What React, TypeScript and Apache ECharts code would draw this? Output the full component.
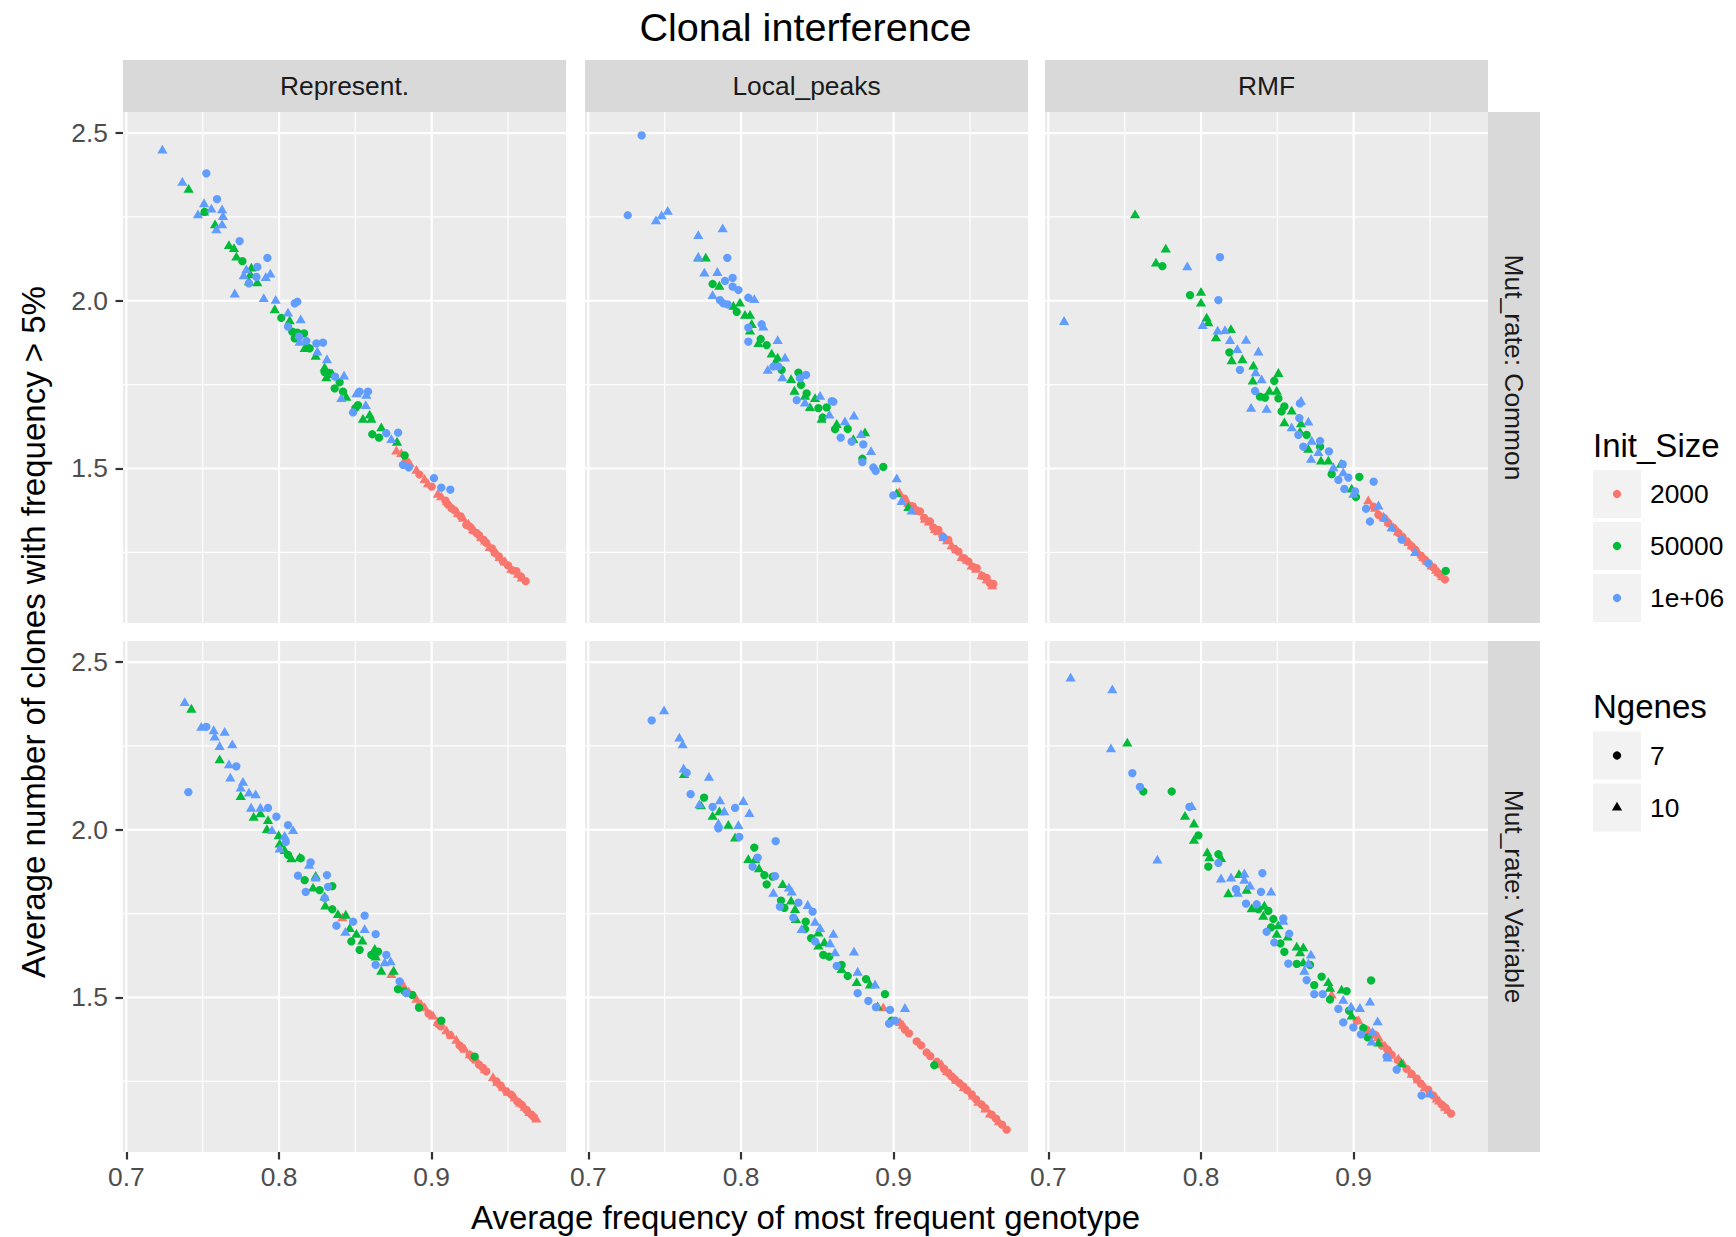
import React, { useEffect, useRef } from 'react';
import * as echarts from 'echarts';

type Pt = [number, number];

// Facet labels and legend categories
const FACET_COLS = ['Represent.', 'Local_peaks', 'RMF'];
const FACET_ROWS = ['Mut_rate: Common', 'Mut_rate: Variable'];
const INIT_SIZES = ['2000', '50000', '1e+06'];
const INIT_COLORS = ['#F8766D', '#00BA38', '#619CFF'];
const NGENES = ['7', '10'];

// Axis ticks and ranges
const X_MAJOR = [0.7, 0.8, 0.9];
const X_MINOR = [0.75, 0.85, 0.95];
const Y_MAJOR = [1.5, 2.0, 2.5];
const Y_MINOR = [1.25, 1.75, 2.25];
const X_RANGE: Pt = [0.6978, 0.988];
const Y_RANGE: Pt = [1.0394, 2.5627];

// ---------- Represent. / Common ----------
const REP_COM_2000_N7: Pt[] = [[0.8830,1.523],[0.8920,1.482],[0.9000,1.446],[0.9090,1.404],[0.9107,1.392],[0.9129,1.382],[0.9150,1.375],[0.9190,1.357],[0.9227,1.332],[0.9249,1.327],[0.9293,1.308],[0.9310,1.301],[0.9340,1.287],[0.9358,1.278],[0.9395,1.262],[0.9413,1.248],[0.9440,1.238],[0.9467,1.223],[0.95,1.211],[0.9530,1.196],[0.9555,1.194],[0.9585,1.178],[0.9616,1.164]];
const REP_COM_2000_N10: Pt[] = [[0.8769,1.551],[0.8801,1.543],[0.8856,1.513],[0.89,1.493],[0.8954,1.466],[0.8976,1.453],[0.9041,1.422],[0.9063,1.414],[0.9100,1.399],[0.9172,1.364],[0.9205,1.35],[0.9240,1.333],[0.9271,1.317],[0.9280,1.313],[0.9325,1.293],[0.9350,1.282],[0.938,1.263],[0.9420,1.248],[0.9445,1.233],[0.9480,1.220],[0.9522,1.198],[0.9566,1.183],[0.9590,1.172]];
const REP_COM_50000_N7: Pt[] = [[0.7513,2.265],[0.776,2.118],[0.8015,1.949],[0.8087,1.908],[0.8103,1.888],[0.8164,1.903],[0.8201,1.858],[0.8299,1.787],[0.8365,1.739],[0.8397,1.757],[0.8419,1.729],[0.8517,1.689],[0.8611,1.602],[0.8655,1.592],[0.8823,1.539],[0.812,1.905],[0.819,1.86],[0.833,1.785],[0.85,1.68]];
const REP_COM_50000_N10: Pt[] = [[0.7408,2.331],[0.7509,2.263],[0.7581,2.225],[0.7672,2.163],[0.7705,2.154],[0.7721,2.129],[0.7819,2.096],[0.7812,2.076],[0.7803,2.055],[0.7858,2.052],[0.7972,1.972],[0.807,1.939],[0.8168,1.856],[0.824,1.833],[0.8299,1.799],[0.831,1.769],[0.8349,1.779],[0.8441,1.711],[0.855,1.645],[0.8605,1.645],[0.8594,1.658],[0.867,1.62],[0.8773,1.577]];
const REP_COM_1E6_N7: Pt[] = [[0.7524,2.38],[0.7594,2.303],[0.7742,2.178],[0.7924,2.128],[0.7858,2.101],[0.7852,2.071],[0.7803,2.052],[0.8103,1.992],[0.812,1.997],[0.8059,1.923],[0.8179,1.88],[0.8288,1.875],[0.8245,1.873],[0.8131,1.893],[0.8367,1.774],[0.8528,1.729],[0.8583,1.729],[0.8485,1.667],[0.8703,1.605],[0.878,1.607],[0.8812,1.511],[0.885,1.503],[0.9015,1.471],[0.9063,1.443],[0.9122,1.437]];
const REP_COM_1E6_N10: Pt[] = [[0.7236,2.448],[0.7367,2.352],[0.7509,2.288],[0.7557,2.272],[0.7469,2.255],[0.7627,2.27],[0.7633,2.25],[0.7627,2.225],[0.759,2.21],[0.771,2.019],[0.7769,2.073],[0.7786,2.091],[0.79,2.005],[0.7913,2.068],[0.7943,2.078],[0.7978,2.0],[0.8059,1.962],[0.8142,1.942],[0.8135,1.875],[0.8251,1.846],[0.8314,1.823],[0.8426,1.774],[0.8408,1.707],[0.8507,1.721],[0.8572,1.717],[0.8568,1.686],[0.8736,1.585]];

// ---------- Local_peaks / Common ----------
const LOC_COM_2000_N7: Pt[] = [[0.9070,1.410],[0.9120,1.388],[0.9172,1.372],[0.9200,1.353],[0.9238,1.342],[0.9260,1.324],[0.9293,1.317],[0.9320,1.298],[0.9358,1.287],[0.9400,1.260],[0.9424,1.252],[0.9460,1.233],[0.9489,1.223],[0.9520,1.207],[0.9544,1.203],[0.9580,1.180],[0.9609,1.174],[0.9630,1.158],[0.9653,1.156]];
const LOC_COM_2000_N10: Pt[] = [[0.9037,1.427],[0.9096,1.394],[0.914,1.382],[0.9160,1.371],[0.9205,1.347],[0.9230,1.339],[0.9271,1.317],[0.9290,1.311],[0.9325,1.293],[0.9350,1.283],[0.938,1.268],[0.9410,1.256],[0.9445,1.233],[0.9480,1.225],[0.9511,1.208],[0.9540,1.198],[0.9576,1.179],[0.9610,1.167],[0.9646,1.149]];
const LOC_COM_50000_N7: Pt[] = [[0.7814,2.05],[0.7972,1.967],[0.8129,1.886],[0.8168,1.868],[0.8266,1.794],[0.8376,1.786],[0.8393,1.749],[0.843,1.724],[0.8507,1.68],[0.8561,1.682],[0.8535,1.652],[0.8616,1.617],[0.8699,1.618],[0.8795,1.529],[0.8932,1.505]];
const LOC_COM_50000_N10: Pt[] = [[0.772,2.126],[0.7769,2.126],[0.7858,2.042],[0.795,1.982],[0.7993,1.992],[0.8026,1.955],[0.8059,1.955],[0.807,1.928],[0.8059,1.908],[0.8114,1.871],[0.8201,1.84],[0.824,1.828],[0.8227,1.816],[0.8328,1.764],[0.835,1.729],[0.8419,1.714],[0.8485,1.707],[0.8452,1.68],[0.8528,1.645],[0.8627,1.63],[0.8736,1.585],[0.8812,1.605],[0.902,1.424],[0.9096,1.382]];
const LOC_COM_1E6_N7: Pt[] = [[0.7349,2.493],[0.7258,2.255],[0.791,2.128],[0.7895,2.059],[0.7945,2.068],[0.7945,2.042],[0.7983,2.032],[0.8048,2.009],[0.7862,2.002],[0.7884,1.992],[0.7913,1.989],[0.8048,1.92],[0.8135,1.93],[0.8048,1.878],[0.8212,1.804],[0.8245,1.804],[0.8386,1.769],[0.8426,1.779],[0.8365,1.704],[0.8594,1.701],[0.8605,1.699],[0.8653,1.592],[0.8725,1.58],[0.8801,1.572],[0.8795,1.519],[0.8867,1.503],[0.8882,1.493],[0.8998,1.42],[0.9325,1.295]];
const LOC_COM_1E6_N10: Pt[] = [[0.7443,2.237],[0.748,2.252],[0.752,2.265],[0.772,2.193],[0.788,2.213],[0.772,2.128],[0.776,2.081],[0.7845,2.083],[0.7814,2.014],[0.8087,2.002],[0.8146,1.92],[0.824,1.88],[0.8175,1.791],[0.8288,1.828],[0.8271,1.769],[0.8419,1.694],[0.8518,1.714],[0.8579,1.658],[0.8681,1.638],[0.874,1.655],[0.8786,1.6],[0.8852,1.549],[0.902,1.468],[0.9052,1.4],[0.9118,1.372]];

// ---------- RMF / Common ----------
const RMF_COM_2000_N7: Pt[] = [[0.9130,1.386],[0.9162,1.362],[0.9200,1.352],[0.9227,1.337],[0.9260,1.323],[0.9293,1.308],[0.9320,1.296],[0.9347,1.283],[0.9380,1.268],[0.9402,1.258],[0.9440,1.240],[0.9467,1.228],[0.9490,1.217],[0.9522,1.205],[0.9560,1.186],[0.9598,1.169]];
const RMF_COM_2000_N10: Pt[] = [[0.9096,1.402],[0.9140,1.380],[0.9194,1.354],[0.9230,1.338],[0.926,1.322],[0.9290,1.310],[0.9325,1.293],[0.9360,1.278],[0.938,1.268],[0.9420,1.250],[0.9456,1.233],[0.9480,1.222],[0.9511,1.208],[0.9540,1.195],[0.9555,1.189],[0.9580,1.176]];
const RMF_COM_50000_N7: Pt[] = [[0.7747,2.103],[0.7928,2.017],[0.8186,1.846],[0.848,1.761],[0.8386,1.714],[0.8419,1.711],[0.8507,1.709],[0.8528,1.67],[0.8546,1.685],[0.8692,1.6],[0.878,1.565],[0.8856,1.483],[0.9037,1.475],[0.9015,1.415],[0.9603,1.195]];
const RMF_COM_50000_N10: Pt[] = [[0.7568,2.255],[0.7769,2.153],[0.7705,2.111],[0.8,2.024],[0.8,1.992],[0.8037,1.947],[0.8048,1.933],[0.8098,1.888],[0.8196,1.913],[0.8201,1.82],[0.8271,1.823],[0.8343,1.804],[0.8339,1.759],[0.8507,1.782],[0.8448,1.729],[0.8496,1.729],[0.8546,1.635],[0.8594,1.67],[0.8655,1.632],[0.8648,1.607],[0.8703,1.556],[0.8786,1.521],[0.8834,1.521],[0.8917,1.511],[0.8987,1.437]];
const RMF_COM_1E6_N7: Pt[] = [[0.8124,2.13],[0.8114,2.002],[0.8255,1.794],[0.8354,1.731],[0.8648,1.694],[0.8644,1.65],[0.8638,1.6],[0.867,1.565],[0.878,1.582],[0.8838,1.551],[0.8928,1.513],[0.89,1.466],[0.8965,1.473],[0.8939,1.439],[0.9009,1.432],[0.9131,1.461],[0.9081,1.38],[0.9107,1.342],[0.9314,1.288],[0.9489,1.218]];
const RMF_COM_1E6_N10: Pt[] = [[0.7103,1.937],[0.791,2.1],[0.8011,1.925],[0.8109,1.908],[0.8157,1.91],[0.819,1.88],[0.8295,1.881],[0.8238,1.853],[0.8376,1.846],[0.8358,1.784],[0.8397,1.763],[0.8328,1.678],[0.843,1.675],[0.8655,1.699],[0.8703,1.637],[0.8594,1.62],[0.8725,1.58],[0.8769,1.546],[0.8721,1.526],[0.8867,1.501],[0.8932,1.486],[0.8998,1.422],[0.9162,1.387],[0.9201,1.35],[0.9402,1.248],[0.9249,1.322]];

// ---------- Represent. / Variable ----------
const REP_VAR_2000_N7: Pt[] = [[0.8921,1.476],[0.8980,1.452],[0.9041,1.421],[0.9060,1.414],[0.9120,1.388],[0.9183,1.357],[0.9200,1.350],[0.9249,1.329],[0.9270,1.319],[0.9310,1.300],[0.9336,1.29],[0.9358,1.28],[0.9424,1.25],[0.9450,1.238],[0.9489,1.22],[0.9522,1.21],[0.9560,1.190],[0.9588,1.181],[0.9620,1.165],[0.9653,1.151],[0.9670,1.143]];
const REP_VAR_2000_N10: Pt[] = [[0.8415,1.736],[0.8627,1.627],[0.8736,1.567],[0.8812,1.536],[0.8850,1.515],[0.89,1.493],[0.8930,1.478],[0.8954,1.468],[0.9009,1.443],[0.9040,1.425],[0.9096,1.399],[0.9130,1.385],[0.9162,1.371],[0.9216,1.344],[0.9250,1.328],[0.9293,1.312],[0.9350,1.283],[0.9402,1.26],[0.9430,1.245],[0.9467,1.23],[0.9500,1.216],[0.9544,1.2],[0.9580,1.183],[0.9609,1.171],[0.9640,1.156],[0.9686,1.136]];
const REP_VAR_50000_N7: Pt[] = [[0.8059,1.925],[0.8142,1.915],[0.8168,1.85],[0.8266,1.82],[0.8349,1.832],[0.8349,1.763],[0.8474,1.667],[0.8528,1.642],[0.8605,1.627],[0.8649,1.637],[0.8779,1.525],[0.8823,1.518],[0.8873,1.508],[0.8917,1.47],[0.9063,1.431],[0.9282,1.324]];
const REP_VAR_50000_N10: Pt[] = [[0.7426,2.358],[0.7611,2.207],[0.7749,2.098],[0.7834,2.036],[0.7878,2.046],[0.7928,2.026],[0.7921,1.999],[0.7998,1.981],[0.8004,1.956],[0.8037,1.937],[0.8081,1.912],[0.8135,1.915],[0.824,1.86],[0.8223,1.825],[0.8299,1.798],[0.8303,1.771],[0.8386,1.746],[0.8437,1.744],[0.8463,1.704],[0.8507,1.687],[0.8546,1.667],[0.8627,1.642],[0.8633,1.619],[0.867,1.577],[0.8751,1.577]];
const REP_VAR_1E6_N7: Pt[] = [[0.7406,2.112],[0.7524,2.307],[0.772,2.189],[0.7928,2.065],[0.7983,2.039],[0.8059,2.014],[0.8044,1.964],[0.8207,1.903],[0.8124,1.863],[0.8175,1.815],[0.8314,1.865],[0.8321,1.83],[0.8299,1.796],[0.8376,1.714],[0.8485,1.726],[0.8561,1.744],[0.8633,1.689],[0.8703,1.627],[0.8633,1.597],[0.879,1.548],[0.8834,1.513]];
const REP_VAR_1E6_N10: Pt[] = [[0.7382,2.378],[0.7491,2.304],[0.7572,2.294],[0.7579,2.275],[0.7644,2.289],[0.7611,2.247],[0.7694,2.252],[0.7672,2.192],[0.7681,2.153],[0.7764,2.14],[0.7749,2.123],[0.7803,2.108],[0.7847,2.103],[0.7817,2.063],[0.7878,2.063],[0.7954,1.996],[0.8092,1.996],[0.8004,1.941],[0.8037,1.979],[0.8197,1.893],[0.824,1.855],[0.8435,1.693],[0.8561,1.701],[0.8692,1.602],[0.8731,1.605]];

// ---------- Local_peaks / Variable ----------
const LOC_VAR_2000_N7: Pt[] = [[0.9074,1.404],[0.9100,1.393],[0.9151,1.369],[0.9180,1.357],[0.9216,1.336],[0.9240,1.325],[0.9282,1.308],[0.9330,1.287],[0.9358,1.275],[0.9380,1.265],[0.9402,1.255],[0.9430,1.245],[0.9456,1.235],[0.9480,1.224],[0.9511,1.211],[0.9540,1.196],[0.9576,1.181],[0.9600,1.170],[0.9642,1.151],[0.9670,1.139],[0.9710,1.121],[0.974,1.106]];
const LOC_VAR_2000_N10: Pt[] = [[0.8932,1.468],[0.9041,1.424],[0.9060,1.416],[0.9290,1.305],[0.9314,1.298],[0.9350,1.278],[0.9410,1.252],[0.9460,1.230],[0.9520,1.205],[0.9555,1.186],[0.9600,1.166],[0.9631,1.151],[0.9690,1.128]];
const LOC_VAR_50000_N7: Pt[] = [[0.7758,2.096],[0.8087,1.947],[0.8153,1.865],[0.8168,1.837],[0.8207,1.86],[0.8262,1.789],[0.8284,1.767],[0.8424,1.726],[0.8419,1.704],[0.8459,1.677],[0.8539,1.627],[0.8578,1.622],[0.8659,1.597],[0.8699,1.564],[0.8819,1.555],[0.8943,1.51],[0.8987,1.431],[0.9266,1.298]];
const LOC_VAR_50000_N10: Pt[] = [[0.7627,2.163],[0.7738,2.07],[0.7814,2.039],[0.7858,2.052],[0.7917,2.012],[0.7961,1.974],[0.8048,1.91],[0.8092,1.91],[0.8118,1.882],[0.8273,1.835],[0.8328,1.786],[0.8354,1.761],[0.836,1.731],[0.8507,1.691],[0.8507,1.652],[0.8546,1.662],[0.8659,1.582],[0.8758,1.543],[0.8845,1.536],[0.8895,1.471]];
const LOC_VAR_1E6_N7: Pt[] = [[0.7415,2.326],[0.7644,2.17],[0.767,2.106],[0.7814,2.068],[0.7852,2.004],[0.7961,2.065],[0.7989,1.979],[0.8227,1.966],[0.8109,1.917],[0.8076,1.89],[0.8223,1.862],[0.8255,1.771],[0.8376,1.783],[0.8469,1.756],[0.8343,1.738],[0.8485,1.667],[0.8627,1.594],[0.8764,1.513],[0.8834,1.49],[0.8884,1.471],[0.8976,1.463],[0.897,1.422],[0.9009,1.431]];
const LOC_VAR_1E6_N10: Pt[] = [[0.7496,2.353],[0.7596,2.272],[0.7618,2.252],[0.7624,2.18],[0.779,2.155],[0.7727,2.073],[0.7862,2.085],[0.789,2.052],[0.8015,2.083],[0.8055,2.047],[0.7983,2.011],[0.7852,2.016],[0.8212,1.809],[0.8314,1.825],[0.8332,1.813],[0.8437,1.773],[0.8397,1.701],[0.8485,1.723],[0.8518,1.704],[0.8605,1.687],[0.8583,1.659],[0.8616,1.632],[0.874,1.634],[0.8764,1.574],[0.8878,1.536],[0.9074,1.466]];

// ---------- RMF / Variable ----------
const RMF_VAR_2000_N7: Pt[] = [[0.902,1.431],[0.9080,1.405],[0.9120,1.390],[0.914,1.389],[0.9183,1.357],[0.9220,1.345],[0.9249,1.329],[0.9290,1.313],[0.9347,1.287],[0.9380,1.272],[0.9413,1.258],[0.9440,1.243],[0.9489,1.225],[0.9520,1.208],[0.9576,1.181],[0.9600,1.172],[0.9638,1.154]];
const RMF_VAR_2000_N10: Pt[] = [[0.8856,1.506],[0.9031,1.429],[0.9100,1.398],[0.9162,1.379],[0.9205,1.354],[0.9240,1.336],[0.9293,1.315],[0.9310,1.304],[0.9325,1.3],[0.938,1.27],[0.9420,1.253],[0.9467,1.23],[0.9500,1.217],[0.9544,1.196],[0.9560,1.190],[0.9598,1.171],[0.9620,1.162]];
const RMF_VAR_50000_N7: Pt[] = [[0.7622,2.114],[0.7808,2.114],[0.7983,1.983],[0.8114,1.927],[0.8048,1.89],[0.8376,1.763],[0.8441,1.758],[0.8474,1.734],[0.8459,1.709],[0.852,1.661],[0.8546,1.636],[0.8627,1.6],[0.8714,1.597],[0.879,1.562],[0.8742,1.537],[0.8954,1.519],[0.8845,1.494],[0.897,1.461],[0.9063,1.409],[0.9092,1.381],[0.9114,1.551]];
const RMF_VAR_50000_N10: Pt[] = [[0.7517,2.257],[0.7895,2.039],[0.7954,2.016],[0.7954,1.967],[0.8041,1.93],[0.8055,1.915],[0.8131,1.913],[0.8249,1.865],[0.8179,1.808],[0.8299,1.818],[0.8332,1.763],[0.8415,1.771],[0.8408,1.741],[0.8507,1.713],[0.8568,1.679],[0.8496,1.687],[0.8627,1.649],[0.867,1.647],[0.8649,1.632],[0.867,1.602],[0.8834,1.543],[0.8845,1.526],[0.8921,1.521],[0.8987,1.443],[0.9162,1.363],[0.9314,1.301]];
const RMF_VAR_1E6_N7: Pt[] = [[0.755,2.169],[0.76,2.128],[0.7924,2.068],[0.8114,1.901],[0.8402,1.871],[0.8229,1.823],[0.8393,1.815],[0.8295,1.78],[0.8365,1.778],[0.843,1.696],[0.848,1.664],[0.8578,1.69],[0.8539,1.736],[0.8572,1.601],[0.8692,1.552],[0.8742,1.51],[0.8797,1.51],[0.89,1.466],[0.8932,1.426],[0.8998,1.411],[0.9048,1.39],[0.9216,1.324],[0.9282,1.285],[0.9445,1.208]];
const RMF_VAR_1E6_N10: Pt[] = [[0.7146,2.451],[0.7419,2.416],[0.741,2.24],[0.7939,2.068],[0.7714,1.908],[0.8131,1.852],[0.8197,1.855],[0.8284,1.867],[0.8284,1.848],[0.8321,1.831],[0.824,1.809],[0.8459,1.813],[0.8539,1.726],[0.872,1.625],[0.8677,1.577],[0.8703,1.599],[0.8932,1.49],[0.8983,1.47],[0.9041,1.466],[0.9107,1.485],[0.9157,1.426],[0.9124,1.395],[0.9118,1.366],[0.9223,1.318],[0.95,1.211]];

// Panel contents: [row][col] -> per Init_Size -> [Ngenes 7, Ngenes 10]
const PANEL_DATA: Pt[][][][][] = [
  [
    [[REP_COM_2000_N7, REP_COM_2000_N10], [REP_COM_50000_N7, REP_COM_50000_N10], [REP_COM_1E6_N7, REP_COM_1E6_N10]],
    [[LOC_COM_2000_N7, LOC_COM_2000_N10], [LOC_COM_50000_N7, LOC_COM_50000_N10], [LOC_COM_1E6_N7, LOC_COM_1E6_N10]],
    [[RMF_COM_2000_N7, RMF_COM_2000_N10], [RMF_COM_50000_N7, RMF_COM_50000_N10], [RMF_COM_1E6_N7, RMF_COM_1E6_N10]],
  ],
  [
    [[REP_VAR_2000_N7, REP_VAR_2000_N10], [REP_VAR_50000_N7, REP_VAR_50000_N10], [REP_VAR_1E6_N7, REP_VAR_1E6_N10]],
    [[LOC_VAR_2000_N7, LOC_VAR_2000_N10], [LOC_VAR_50000_N7, LOC_VAR_50000_N10], [LOC_VAR_1E6_N7, LOC_VAR_1E6_N10]],
    [[RMF_VAR_2000_N7, RMF_VAR_2000_N10], [RMF_VAR_50000_N7, RMF_VAR_50000_N10], [RMF_VAR_1E6_N7, RMF_VAR_1E6_N10]],
  ],
];

// Layout (px)
const COL_LEFT = [123, 585, 1045];
const ROW_TOP = [112, 641];
const PANEL_W = 443;
const PANEL_H = 511;
const STRIP_SIZE = 52;
const FONT = '"Liberation Sans", Arial, Helvetica, sans-serif';
const CIRCLE_SIZE = 8.3;
const TRI_SIZE: [number, number] = [10.2, 8.8];

function gridLineSeries(idx: number) {
  const data: number[][] = [
    ...X_MINOR.map((v) => [v, Y_RANGE[0], 0]),
    ...X_MAJOR.map((v) => [v, Y_RANGE[0], 1]),
    ...Y_MINOR.map((v) => [X_RANGE[0], v, 2]),
    ...Y_MAJOR.map((v) => [X_RANGE[0], v, 3]),
  ];
  return {
    type: 'custom',
    xAxisIndex: idx,
    yAxisIndex: idx,
    silent: true,
    z: 1,
    clip: false,
    data,
    renderItem: (_params: any, api: any) => {
      const kind = api.value(2);
      let a: number[];
      let b: number[];
      if (kind < 2) {
        const x = api.value(0);
        a = api.coord([x, Y_RANGE[0]]);
        b = api.coord([x, Y_RANGE[1]]);
      } else {
        const y = api.value(1);
        a = api.coord([X_RANGE[0], y]);
        b = api.coord([X_RANGE[1], y]);
      }
      return {
        type: 'line',
        shape: { x1: a[0], y1: a[1], x2: b[0], y2: b[1] },
        style: { stroke: '#FFFFFF', lineWidth: kind % 2 === 1 ? 2.2 : 1.1 },
      };
    },
  };
}

function buildOption() {
  const grids: any[] = [];
  const xAxes: any[] = [];
  const yAxes: any[] = [];
  const series: any[] = [];
  const graphic: any[] = [];

  for (let r = 0; r < 2; r++) {
    for (let c = 0; c < 3; c++) {
      const idx = r * 3 + c;
      const bottom = r === 1;
      const left = c === 0;
      grids.push({
        left: COL_LEFT[c],
        top: ROW_TOP[r],
        width: PANEL_W,
        height: PANEL_H,
        show: true,
        backgroundColor: '#EBEBEB',
        borderWidth: 0,
        containLabel: false,
      });
      xAxes.push({
        type: 'value',
        gridIndex: idx,
        min: X_RANGE[0],
        max: X_RANGE[1],
        axisLine: { show: false },
        splitLine: { show: false },
        axisTick: {
          show: bottom,
          length: 7.5,
          customValues: X_MAJOR,
          lineStyle: { color: '#333333', width: 2.2 },
        },
        axisLabel: {
          show: bottom,
          customValues: X_MAJOR,
          formatter: (v: number) => v.toFixed(1),
          color: '#4D4D4D',
          fontSize: 26.4,
          fontFamily: FONT,
          margin: 12,
        },
      });
      yAxes.push({
        type: 'value',
        gridIndex: idx,
        min: Y_RANGE[0],
        max: Y_RANGE[1],
        axisLine: { show: false },
        splitLine: { show: false },
        axisTick: {
          show: left,
          length: 7.5,
          customValues: Y_MAJOR,
          lineStyle: { color: '#333333', width: 2.2 },
        },
        axisLabel: {
          show: left,
          customValues: Y_MAJOR,
          formatter: (v: number) => v.toFixed(1),
          color: '#4D4D4D',
          fontSize: 26.4,
          fontFamily: FONT,
          margin: 15,
        },
      });
      series.push(gridLineSeries(idx));
      PANEL_DATA[r][c].forEach((byShape, s) => {
        byShape.forEach((pts, g) => {
          series.push({
            type: 'scatter',
            name: `${INIT_SIZES[s]} / ${NGENES[g]}`,
            xAxisIndex: idx,
            yAxisIndex: idx,
            data: pts,
            symbol: g === 0 ? 'circle' : 'triangle',
            symbolSize: g === 0 ? CIRCLE_SIZE : TRI_SIZE,
            symbolOffset: g === 0 ? [0, 0] : [0, -1.4],
            itemStyle: { color: INIT_COLORS[s], opacity: 1 },
            silent: true,
            z: 3,
          });
        });
      });
    }
  }

  // Facet strips, top
  FACET_COLS.forEach((label, c) => {
    graphic.push({
      type: 'rect',
      shape: { x: COL_LEFT[c], y: ROW_TOP[0] - STRIP_SIZE, width: PANEL_W, height: STRIP_SIZE },
      style: { fill: '#D9D9D9' },
      silent: true,
    });
    graphic.push({
      type: 'text',
      x: COL_LEFT[c] + PANEL_W / 2,
      y: ROW_TOP[0] - STRIP_SIZE / 2,
      style: { text: label, fill: '#1A1A1A', font: `26.4px ${FONT}`, textAlign: 'center', textVerticalAlign: 'middle' },
      silent: true,
    });
  });
  // Facet strips, right
  const stripX = COL_LEFT[2] + PANEL_W;
  FACET_ROWS.forEach((label, r) => {
    graphic.push({
      type: 'rect',
      shape: { x: stripX, y: ROW_TOP[r], width: STRIP_SIZE, height: PANEL_H },
      style: { fill: '#D9D9D9' },
      silent: true,
    });
    graphic.push({
      type: 'text',
      x: stripX + STRIP_SIZE / 2,
      y: ROW_TOP[r] + PANEL_H / 2,
      rotation: -Math.PI / 2,
      style: { text: label, fill: '#1A1A1A', font: `26.4px ${FONT}`, textAlign: 'center', textVerticalAlign: 'middle' },
      silent: true,
    });
  });

  // Titles
  const panelsCenterX = (COL_LEFT[0] + COL_LEFT[2] + PANEL_W) / 2;
  graphic.push({
    type: 'text',
    x: panelsCenterX,
    y: 27,
    style: { text: 'Clonal interference', fill: '#000000', font: `39.6px ${FONT}`, textAlign: 'center', textVerticalAlign: 'middle' },
    silent: true,
  });
  graphic.push({
    type: 'text',
    x: panelsCenterX,
    y: 1217,
    style: { text: 'Average frequency of most frequent genotype', fill: '#000000', font: `33px ${FONT}`, textAlign: 'center', textVerticalAlign: 'middle' },
    silent: true,
  });
  graphic.push({
    type: 'text',
    x: 33,
    y: (ROW_TOP[0] + ROW_TOP[1] + PANEL_H) / 2,
    rotation: Math.PI / 2,
    style: { text: 'Average number of clones with frequency > 5%', fill: '#000000', font: `33px ${FONT}`, textAlign: 'center', textVerticalAlign: 'middle' },
    silent: true,
  });

  // Legends
  const LX = 1593;
  const KEY = 48;
  const STEP = 52;
  graphic.push({
    type: 'text', x: LX, y: 445,
    style: { text: 'Init_Size', fill: '#000000', font: `33px ${FONT}`, textAlign: 'left', textVerticalAlign: 'middle' },
    silent: true,
  });
  INIT_SIZES.forEach((label, i) => {
    const top = 470 + STEP * i;
    graphic.push({ type: 'rect', shape: { x: LX, y: top, width: KEY, height: KEY }, style: { fill: '#F2F2F2' }, silent: true });
    graphic.push({ type: 'circle', shape: { cx: LX + KEY / 2, cy: top + KEY / 2, r: CIRCLE_SIZE / 2 }, style: { fill: INIT_COLORS[i] }, silent: true });
    graphic.push({
      type: 'text', x: LX + 57, y: top + KEY / 2,
      style: { text: label, fill: '#000000', font: `26.4px ${FONT}`, textAlign: 'left', textVerticalAlign: 'middle' },
      silent: true,
    });
  });
  graphic.push({
    type: 'text', x: LX, y: 706,
    style: { text: 'Ngenes', fill: '#000000', font: `33px ${FONT}`, textAlign: 'left', textVerticalAlign: 'middle' },
    silent: true,
  });
  NGENES.forEach((label, i) => {
    const top = 731.5 + STEP * i;
    const cx = LX + KEY / 2;
    const cy = top + KEY / 2;
    graphic.push({ type: 'rect', shape: { x: LX, y: top, width: KEY, height: KEY }, style: { fill: '#F2F2F2' }, silent: true });
    if (i === 0) {
      graphic.push({ type: 'circle', shape: { cx, cy, r: CIRCLE_SIZE / 2 }, style: { fill: '#000000' }, silent: true });
    } else {
      const hw = TRI_SIZE[0] / 2;
      const h = TRI_SIZE[1];
      graphic.push({
        type: 'polygon',
        shape: { points: [[cx, cy - (2 * h) / 3], [cx + hw, cy + h / 3], [cx - hw, cy + h / 3]] },
        style: { fill: '#000000' },
        silent: true,
      });
    }
    graphic.push({
      type: 'text', x: LX + 57, y: cy,
      style: { text: label, fill: '#000000', font: `26.4px ${FONT}`, textAlign: 'left', textVerticalAlign: 'middle' },
      silent: true,
    });
  });

  return {
    animation: false,
    backgroundColor: '#FFFFFF',
    grid: grids,
    xAxis: xAxes,
    yAxis: yAxes,
    series,
    graphic,
  };
}

export default function App() {
  const ref = useRef<HTMLDivElement>(null);
  useEffect(() => {
    if (!ref.current) return;
    const chart = echarts.init(ref.current, null, { renderer: 'svg' });
    chart.setOption(buildOption() as any);
    return () => chart.dispose();
  }, []);
  return (
    <div
      ref={ref}
      style={{ position: 'absolute', left: 0, top: 0, width: 1736, height: 1237, background: '#FFFFFF' }}
    />
  );
}
